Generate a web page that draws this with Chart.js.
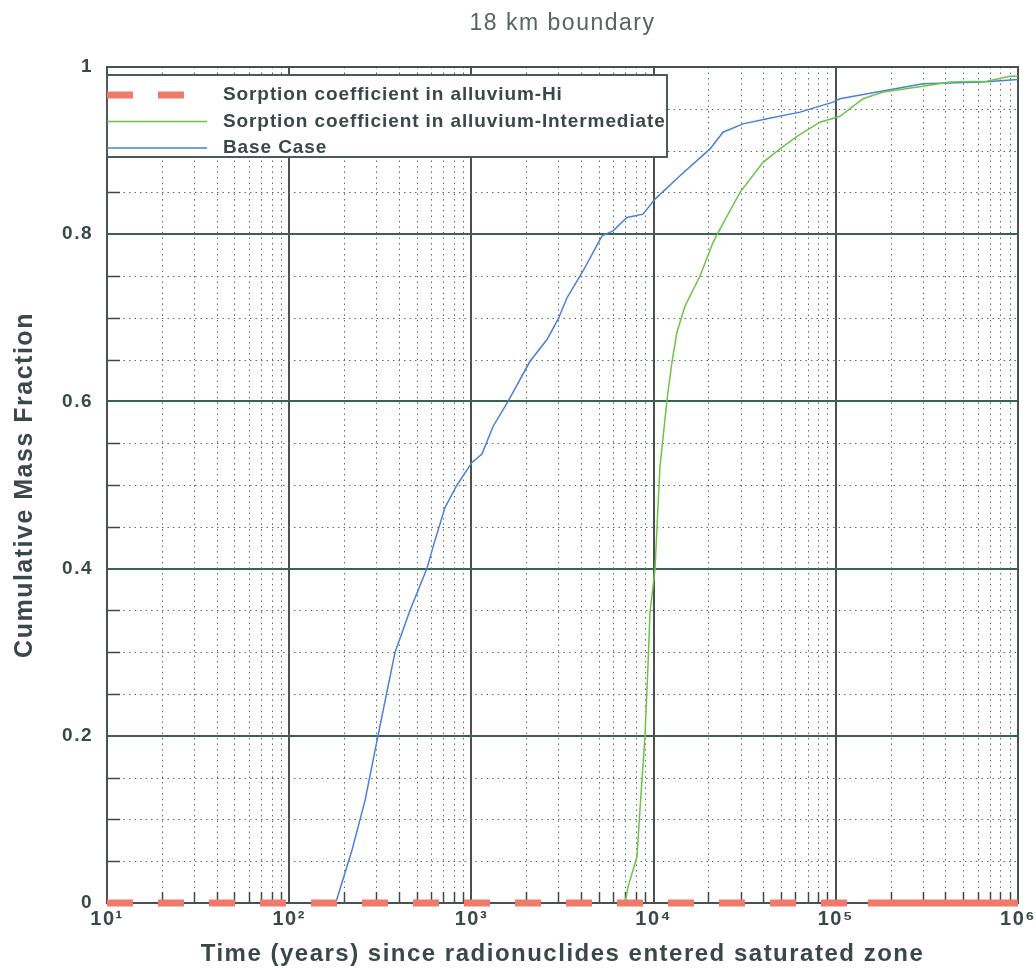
<!DOCTYPE html>
<html>
<head>
<meta charset="utf-8">
<script src="https://cdn.jsdelivr.net/npm/chart.js@4.4.1/dist/chart.umd.min.js"></script>
<style>
  body { margin: 0; background: #fff; }
  #wrap { width: 1036px; height: 972px; position: relative; }
</style>
</head>
<body>
<div id="wrap"><canvas id="myChart"></canvas></div>
<script>
// values
const hiTimes = [10, 150000, 1000000];
const hiFrac = [0, 0, 0];

const interTimes = [6970, 7230, 8100, 8410, 8970, 9310, 9550, 10180, 10440, 10840, 11850, 12630, 13440, 14870, 17980, 21180, 23130, 29800, 39850, 49400, 61200, 81900, 105400, 141000, 181600, 301000, 423600, 676000, 904000, 1000000];
const interFrac = [0, 0.019, 0.055, 0.11, 0.2, 0.283, 0.347, 0.399, 0.45, 0.522, 0.602, 0.648, 0.683, 0.714, 0.75, 0.79, 0.806, 0.85, 0.886, 0.902, 0.917, 0.934, 0.941, 0.962, 0.97, 0.977, 0.982, 0.983, 0.989, 0.989];

const baseTimes = [180, 221, 261, 307, 381, 460, 570, 616, 716, 834, 1007, 1143, 1314, 1589, 2098, 2600, 2987, 3350, 4100, 5210, 5990, 7140, 8750, 10180, 13960, 20400, 24050, 30970, 41900, 63650, 96600, 105400, 168300, 301000, 642000, 1000000];
const baseFrac = [0, 0.063, 0.123, 0.2, 0.3, 0.35, 0.4, 0.426, 0.473, 0.5, 0.527, 0.537, 0.57, 0.6, 0.648, 0.674, 0.698, 0.724, 0.756, 0.798, 0.804, 0.82, 0.824, 0.842, 0.87, 0.902, 0.922, 0.932, 0.938, 0.946, 0.958, 0.962, 0.97, 0.98, 0.982, 0.985];

const seriesLabels = [
    'Sorption coefficient in alluvium-Hi',
    'Sorption coefficient in alluvium-Intermediate',
    'Base Case',
];

const xTickValues = [10, 100, 1000, 10000, 100000, 1000000];
const xTickLabels = ['10¹', '10²', '10³', '10⁴', '10⁵', '10⁶'];
const yTickLabels = ['0', '0.2', '0.4', '0.6', '0.8', '1'];

const textColor = '#3b4847';
const fontFamily = '"Liberation Sans", Arial, sans-serif';

function toPoints(xs, ys) {
    return xs.map((v, i) => ({ x: v, y: ys[i] }));
}

// minor grid positions
const xMinor = [];
for (let d = 10; d < 1000000; d *= 10) {
    for (let m = 2; m <= 9; m++) xMinor.push(d * m);
}
const yMinor = [];
for (let k = 1; k < 20; k++) {
    if (k % 4 !== 0) yMinor.push(k * 0.05);
}

// the original text is drawn wide, so space the letters a little
const wideText = {
    id: 'wideText',
    beforeUpdate(chart) { chart.ctx.letterSpacing = '1.5px'; },
    beforeDraw(chart) { chart.ctx.letterSpacing = '1.5px'; },
};

const minorGrid = {
    id: 'minorGrid',
    beforeDatasetsDraw(chart) {
        const { ctx, chartArea: a, scales: { x, y } } = chart;
        ctx.save();
        ctx.strokeStyle = '#5c6b68';
        ctx.lineWidth = 1;
        ctx.setLineDash([1.5, 4]);
        xMinor.forEach(v => {
            const px = Math.round(x.getPixelForValue(v)) + 0.5;
            ctx.beginPath();
            ctx.moveTo(px, a.top);
            ctx.lineTo(px, a.bottom);
            ctx.stroke();
        });
        yMinor.forEach(v => {
            const py = Math.round(y.getPixelForValue(v)) + 0.5;
            ctx.beginPath();
            ctx.moveTo(a.left, py);
            ctx.lineTo(a.right, py);
            ctx.stroke();
        });
        // small tick marks inside the frame
        ctx.setLineDash([]);
        ctx.lineWidth = 1.5;
        ctx.strokeStyle = '#3f4a48';
        xMinor.forEach(v => {
            const px = Math.round(x.getPixelForValue(v)) + 0.5;
            ctx.beginPath();
            ctx.moveTo(px, a.bottom);
            ctx.lineTo(px, a.bottom - 11);
            ctx.stroke();
        });
        yMinor.forEach(v => {
            const py = Math.round(y.getPixelForValue(v)) + 0.5;
            ctx.beginPath();
            ctx.moveTo(a.left, py);
            ctx.lineTo(a.left + 13, py);
            ctx.stroke();
        });
        // frame
        ctx.lineWidth = 2;
        ctx.strokeStyle = '#4a5250';
        ctx.strokeRect(a.left, a.top, a.right - a.left, a.bottom - a.top);
        ctx.restore();
    },
};

const legendBox = {
    id: 'legendBox',
    afterDatasetsDraw(chart) {
        const { ctx, chartArea: a } = chart;
        const x0 = a.left, y0 = a.top + 8, w = 560, h = 82;
        ctx.save();
        ctx.fillStyle = '#fff';
        ctx.fillRect(x0, y0, w, h);
        ctx.strokeStyle = '#4d5a58';
        ctx.lineWidth = 2;
        ctx.strokeRect(x0, y0, w, h);
        chart.data.datasets.forEach((ds, i) => {
            const yy = y0 + 20 + i * 26.5;
            ctx.beginPath();
            ctx.setLineDash(ds.borderDash || []);
            ctx.lineWidth = ds.borderWidth;
            ctx.strokeStyle = ds.borderColor;
            ctx.moveTo(x0, yy);
            ctx.lineTo(x0 + 100, yy);
            ctx.stroke();
            ctx.setLineDash([]);
            ctx.fillStyle = textColor;
            ctx.font = 'bold 19px ' + fontFamily;
            ctx.letterSpacing = '0.9px';
            ctx.textBaseline = 'middle';
            ctx.fillText(ds.label, x0 + 116, yy);
        });
        ctx.restore();
    },
};

const data = {
    datasets: [{
        label: seriesLabels[0],
        data: toPoints(hiTimes, hiFrac),
        borderColor: '#f07a6a',
        borderWidth: 7,
        borderDash: [26, 25],
        borderCapStyle: 'butt',
        pointRadius: 0,
        clip: 8,
        segment: {
            borderDash: c => c.p0DataIndex === 1 ? [] : [26, 25],
        },
    }, {
        label: seriesLabels[1],
        data: toPoints(interTimes, interFrac),
        borderColor: '#6cc446',
        borderWidth: 1.5,
        pointRadius: 0,
    }, {
        label: seriesLabels[2],
        data: toPoints(baseTimes, baseFrac),
        borderColor: '#4a80d6',
        borderWidth: 1.5,
        pointRadius: 0,
    }],
};

const config = {
    type: 'line',
    data: data,
    plugins: [wideText, minorGrid, legendBox],
    options: {
        responsive: true,
        maintainAspectRatio: false,
        animation: false,
        layout: { padding: 0 },
        scales: {
            x: {
                type: 'logarithmic',
                min: 10,
                max: 1000000,
                afterBuildTicks: scale => {
                    scale.ticks = xTickValues.map(v => ({ value: v }));
                },
                afterFit: scale => {
                    scale.height = 69;
                    // the last label may run off the edge, as in the original
                    scale.paddingRight = 18;
                    scale.paddingLeft = 0;
                },
                ticks: {
                    padding: 4,
                    color: textColor,
                    font: { family: fontFamily, size: 20, weight: 'bold' },
                    autoSkip: false,
                    maxRotation: 0,
                    callback: (value, index) => xTickLabels[index],
                },
                grid: { color: '#4a4f50', lineWidth: 2, drawTicks: false },
                border: { display: false },
                title: {
                    display: true,
                    text: 'Time (years) since radionuclides entered saturated zone',
                    color: textColor,
                    font: { family: fontFamily, size: 24, weight: 'bold' },
                    padding: { top: 0, bottom: 3 },
                },
            },
            // top axis only carries the chart heading, centred over the plot
            top: {
                type: 'linear',
                position: 'top',
                display: true,
                afterFit: scale => { scale.height = 67; },
                ticks: { display: false },
                grid: { display: false, drawTicks: false },
                border: { display: false },
                title: {
                    display: true,
                    text: '18 km boundary',
                    color: '#5a6262',
                    font: { family: fontFamily, size: 23, weight: 'normal' },
                    padding: { top: 10, bottom: 0 },
                },
            },
            y: {
                min: 0,
                max: 1,
                afterFit: scale => { scale.width = 107; },
                ticks: {
                    stepSize: 0.2,
                    padding: 14,
                    color: textColor,
                    font: { family: fontFamily, size: 19, weight: 'bold' },
                    callback: (value, index) => yTickLabels[index],
                },
                grid: { color: '#3a6252', lineWidth: 2, drawTicks: false },
                border: { display: false },
                title: {
                    display: true,
                    text: 'Cumulative Mass Fraction',
                    color: textColor,
                    font: { family: fontFamily, size: 25, weight: 'bold' },
                    padding: { top: 10, bottom: 0 },
                },
            },
        },
        plugins: {
            legend: { display: false },
            tooltip: { enabled: false },
        },
    },
};

const ctx = document.getElementById('myChart').getContext('2d');
const myChart = new Chart(ctx, config);
</script>
</body>
</html>
